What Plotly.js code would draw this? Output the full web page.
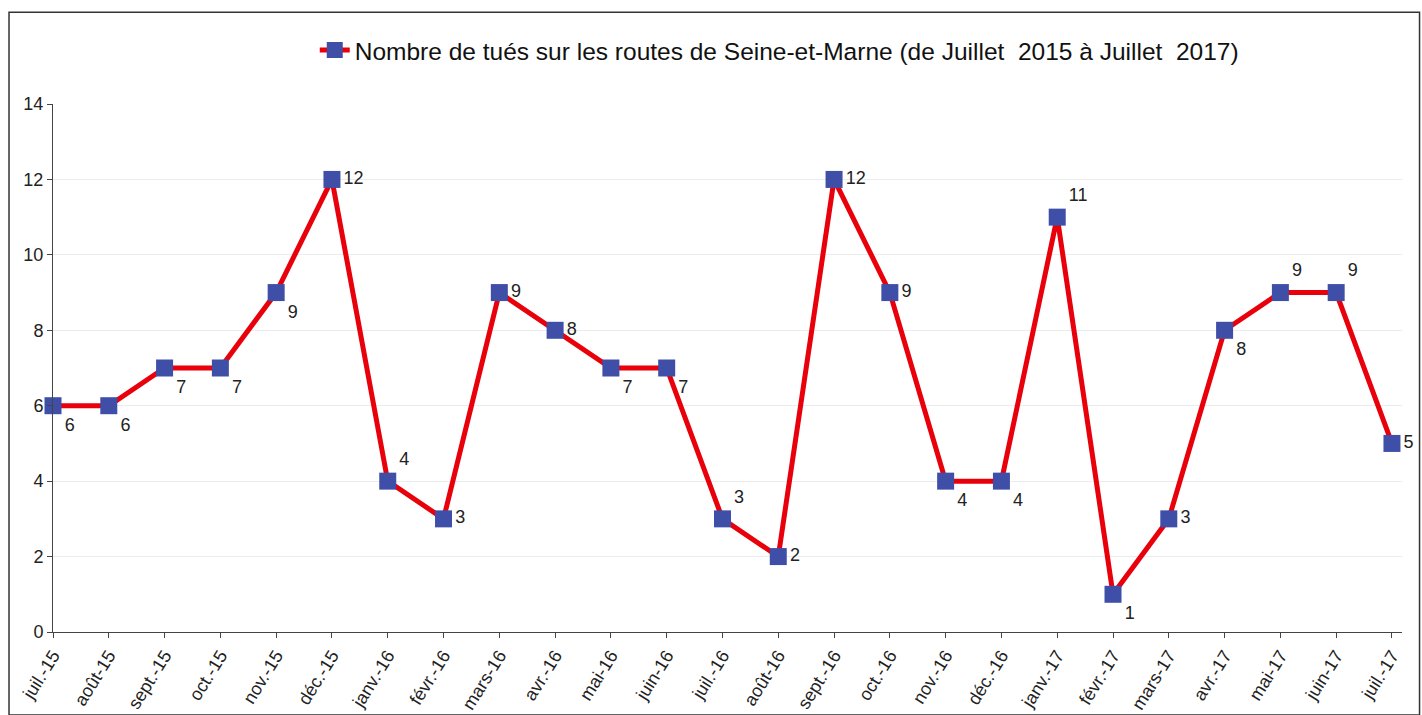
<!DOCTYPE html>
<html>
<head>
<meta charset="utf-8">
<script src="https://cdn.plot.ly/plotly-3.0.1.min.js"></script>
<style>html,body{margin:0;padding:0;background:#fff;}#chart{width:1422px;height:715px;}</style>
</head>
<body>
<div id="chart"></div>
<script>
const months = ["juil.-15","août-15","sept.-15","oct.-15","nov.-15","déc.-15","janv.-16","févr.-16","mars-16","avr.-16","mai-16","juin-16","juil.-16","août-16","sept.-16","oct.-16","nov.-16","déc.-16","janv.-17","févr.-17","mars-17","avr.-17","mai-17","juin-17","juil.-17"];
const killed = [6,6,7,7,9,12,4,3,9,8,7,7,3,2,12,9,4,4,11,1,3,8,9,9,5];
const labelPos = ["bottom right","bottom right","bottom right","bottom right","bottom right","middle right","top right","middle right","middle right","middle right","bottom right","bottom right","top right","middle right","middle right","middle right","bottom right","bottom right","top right","bottom right","middle right","bottom right","top right","top right","middle right"];
const seriesName = "Nombre de tués sur les routes de Seine-et-Marne (de Juillet  2015 à Juillet  2017)";
const yTicks = [0,2,4,6,8,10,12,14];

const xIdx = months.map((m,i)=>i);

const trace = {
  x: xIdx,
  y: killed,
  type: "scatter",
  mode: "lines+markers+text",
  name: seriesName,
  text: killed.map(String),
  textposition: labelPos,
  textfont: {family: "Liberation Sans, Arial, sans-serif", size: 18, color: "#222"},
  line: {color: "#e8000b", width: 5},
  marker: {symbol: "square", size: 17, color: "#3f4fa8", line: {width: 0}},
  cliponaxis: false
};

const layout = {
  width: 1422, height: 715,
  margin: {l: 53, r: 20, t: 104, b: 83, autoexpand: false},
  paper_bgcolor: "#fff", plot_bgcolor: "#fff",
  font: {family: "Liberation Sans, Arial, sans-serif", color: "#222"},
  showlegend: true,
  legend: {orientation: "h", xref: "container", yref: "container",
           x: 0.548, xanchor: "center", y: 0.93, yanchor: "middle",
           font: {family: "Liberation Sans, Arial, sans-serif", size: 24.5, color: "#111"},
           bgcolor: "rgba(0,0,0,0)"},
  xaxis: {
    range: [0, 24.18], automargin: false,
    tickmode: "array", tickvals: xIdx, ticktext: months,
    tickangle: -58, tickfont: {size: 18, color: "#222"},
    showline: true, linecolor: "#444", linewidth: 1,
    ticks: "outside", ticklen: 5, tickcolor: "#444",
    showgrid: false, zeroline: false, fixedrange: true
  },
  yaxis: {
    range: [0, 14], automargin: false,
    tickmode: "array", tickvals: yTicks,
    tickfont: {size: 18, color: "#222"},
    showline: true, linecolor: "#444", linewidth: 1,
    ticks: "outside", ticklen: 5, tickcolor: "#444",
    showgrid: true, gridcolor: "#ececec", gridwidth: 1,
    zeroline: false, fixedrange: true
  },
  shapes: [{
    type: "rect", xref: "paper", yref: "paper",
    x0: -0.0326, x1: 1.013, y0: -0.157, y1: 1.174,
    line: {color: "#333", width: 1.5}, fillcolor: "rgba(0,0,0,0)", layer: "below"
  }]
};

Plotly.newPlot("chart", [trace], layout, {displayModeBar: false, staticPlot: true});
</script>
</body>
</html>
